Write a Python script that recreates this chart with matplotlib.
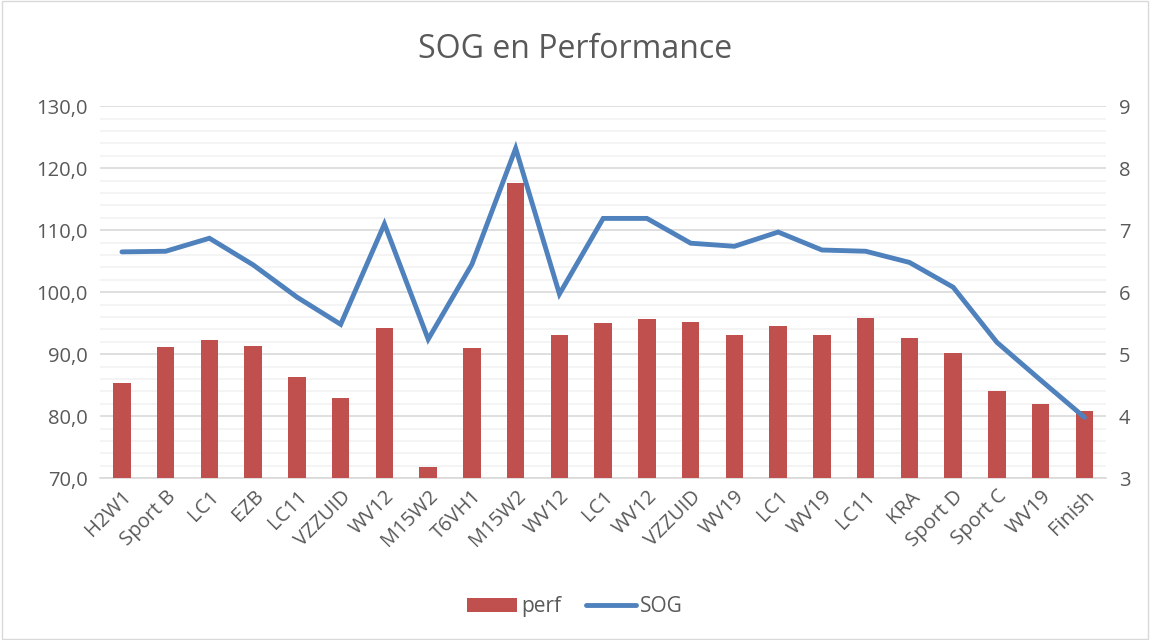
import matplotlib.pyplot as plt
import numpy as np
from matplotlib.ticker import MultipleLocator, FuncFormatter
from matplotlib.patches import Rectangle

# data
labels = ['H2W1', 'Sport B', 'LC1', 'EZB', 'LC11', 'VZZUID', 'WV12', 'M15W2',
          'T6VH1', 'M15W2', 'WV12', 'LC1', 'WV12', 'VZZUID', 'WV19', 'LC1',
          'WV19', 'LC11', 'KRA', 'Sport D', 'Sport C', 'WV19', 'Finish']
perf = [85.3, 91.1, 92.2, 91.3, 86.3, 82.9, 94.2, 71.8, 91.0, 117.6, 93.1, 95.0,
        95.6, 95.2, 93.1, 94.5, 93.1, 95.8, 92.6, 90.2, 84.0, 81.9, 80.8]
sog = [6.65, 6.66, 6.87, 6.44, 5.92, 5.48, 7.10, 5.24, 6.45, 8.32, 5.97, 7.19,
       7.19, 6.79, 6.74, 6.97, 6.68, 6.66, 6.48, 6.08, 5.19, 4.58, 3.98]

plt.rcParams['font.family'] = ['Open Sans', 'DejaVu Sans']
txt = '#595959'

fig = plt.figure(figsize=(11.5, 6.4), dpi=100)
fig.patches.append(Rectangle((0.002, 0.002), 0.996, 0.996, transform=fig.transFigure,
                             fill=False, edgecolor='#D9D9D9', linewidth=1))
ax = fig.add_axes([0.087, 0.253, 0.875, 0.581])
ax2 = ax.twinx()

x = np.arange(len(labels))
bars = ax.bar(x, perf, width=0.4, color='#C0504D', label='perf', zorder=3)
line, = ax2.plot(x, sog, color='#4F81BD', lw=3.5, solid_capstyle='round',
                 solid_joinstyle='miter', label='SOG', zorder=4)

ax.set_xlim(-0.5, len(labels) - 0.5)
ax.set_ylim(70, 130)
ax2.set_ylim(3, 9)
ax.yaxis.set_major_locator(MultipleLocator(10))
ax.yaxis.set_minor_locator(MultipleLocator(2))
ax2.yaxis.set_major_locator(MultipleLocator(1))
ax.yaxis.set_major_formatter(FuncFormatter(lambda v, p: f'{v:.1f}'.replace('.', ',')))

ax.grid(axis='y', which='major', color='#D9D9D9', lw=1.2, zorder=0)
ax.grid(axis='y', which='minor', color='#F2F2F2', lw=1.2, zorder=0)
ax.set_axisbelow(True)

for a in (ax, ax2):
    for s in a.spines.values():
        s.set_visible(False)
    a.tick_params(which='both', length=0, labelsize=14.5, labelcolor=txt, pad=9)
ax.spines['bottom'].set_visible(True)
ax.spines['bottom'].set_color('#D9D9D9')
ax.spines['bottom'].set_linewidth(1.2)

ax.set_xticks(x)
ax.set_xticklabels(labels, rotation=45, ha='right', rotation_mode='anchor')
ax.tick_params(axis='x', pad=6)

fig.text(0.5, 0.922, 'SOG en Performance', ha='center', va='center', fontsize=23, color=txt)
fig.legend([bars, line], ['perf', 'SOG'], loc='center', bbox_to_anchor=(0.5, 0.052),
           ncol=2, frameon=False, fontsize=15, labelcolor=txt, handlelength=2.4,
           handletextpad=0.2, columnspacing=1.2)

fig.savefig('out.png', dpi=100)
